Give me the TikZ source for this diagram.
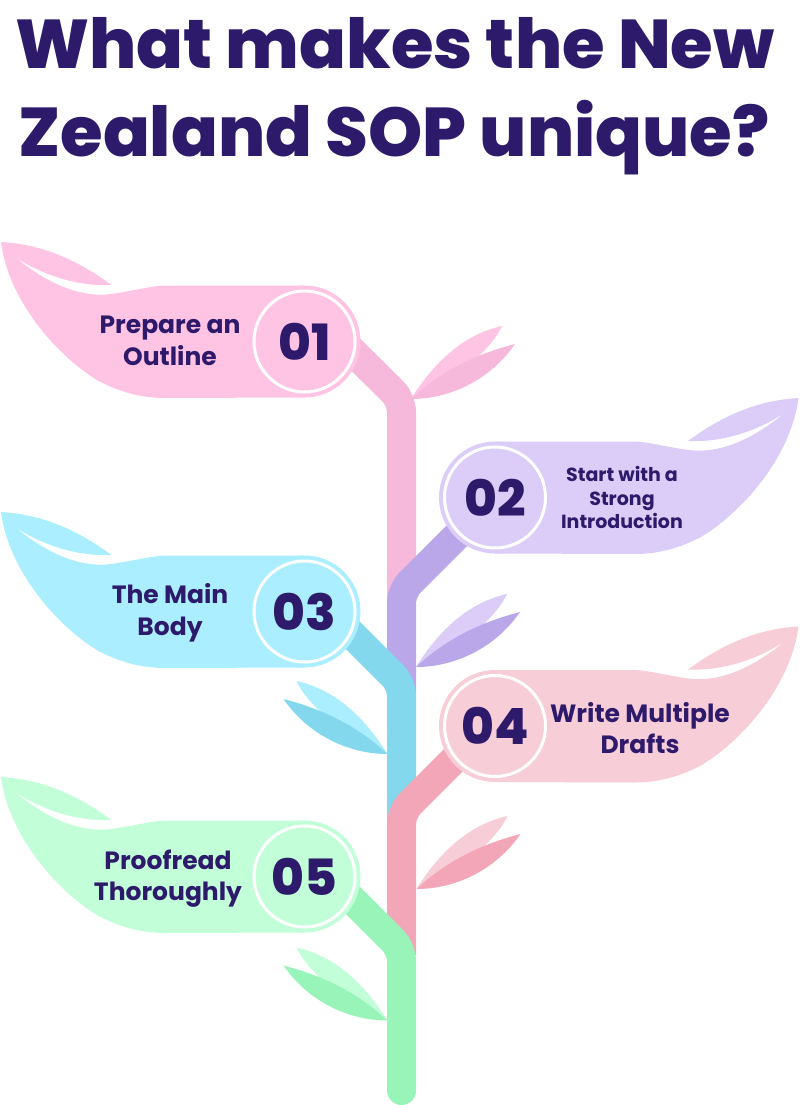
\documentclass[tikz,border=0pt]{standalone}
\usepackage{fontspec}
\setmainfont{Poppins}[BoldFont={Poppins Bold}]
\newfontfamily\heavyfont{Poppins ExtraBold}
\usetikzlibrary{calc}
\pgfdeclarelayer{background}
\pgfsetlayers{background,main}
\definecolor{inkc}{HTML}{2E1A6B}
\definecolor{flaga}{HTML}{FFC4E4}
\definecolor{stema}{HTML}{F6B8DB}
\definecolor{flagb}{HTML}{DBCCF8}
\definecolor{stemb}{HTML}{B9A7E9}
\definecolor{flagc}{HTML}{ABEEFF}
\definecolor{stemc}{HTML}{84D8EE}
\definecolor{flagd}{HTML}{F7CDD8}
\definecolor{stemd}{HTML}{F3A6B7}
\definecolor{flage}{HTML}{C2FFD9}
\definecolor{steme}{HTML}{98F4B8}
\tikzset{
  numnode/.style={circle,draw=white,line width=3pt,minimum size=101pt,inner sep=0pt,
    text=inkc,font=\fontsize{50}{50}\selectfont\heavyfont},
  labelnode/.style={align=center,text=inkc,inner sep=0pt,
    font=\fontsize{25}{31.5}\selectfont\bfseries},
  smalllabel/.style={labelnode,font=\fontsize{19}{23.5}\selectfont\bfseries},
  titlenode/.style={anchor=base west,text=inkc,inner sep=0pt,
    font=\fontsize{69}{70}\selectfont\heavyfont},
  stemline/.style={line width=29pt,rounded corners=12pt,line cap=butt}
}
% flag with its leaf: #1 centre, #2 1 (left) or -1 (right), #3 colour
\newcommand{\flagshape}[3]{
\begin{scope}[shift={#1},xscale=#2]
\fill[#3] (-303.5,-99.5) .. controls (-260,-97) and (-225,-80) .. (-193,-56.5)
  .. controls (-225,-55) and (-260,-65) .. (-289.5,-84.5)
  .. controls (-260,-60) and (-225,-42) .. (-190,-48)
  .. controls (-170,-51) and (-150,-56) .. (-139,-56)
  -- (0,-56) -- (0,56) -- (-139,56.5)
  .. controls (-165,56.5) and (-185,50) .. (-205,40)
  .. controls (-240,20) and (-295,-35) .. (-303.5,-99.5) -- cycle;
\fill[#3] (0,0) circle (56pt);
\end{scope}
}
% pair of leaves: #1 base, #2 1 (right) or -1 (left), #3 light, #4 dark
\newcommand{\twig}[4]{
\begin{scope}[shift={#1},xscale=#2]
\fill[#3] (0,0) .. controls (25,-40) and (55,-65) .. (91,-73)
  .. controls (85,-60) and (75,-50) .. (65,-40) -- cycle;
\fill[#4] (0,0) .. controls (30,-28) and (65,-45) .. (104,-55)
  .. controls (80,-20) and (40,0) .. (0,0) -- cycle;
\end{scope}
}
\begin{document}
\begin{tikzpicture}[x=1pt,y=-1pt]
\useasboundingbox (0,0) rectangle (800,1105);
\node[titlenode] (title1) at (15,68.5) {What makes the New};
\node[titlenode] (title2) at (18,156.5) {Zealand SOP unique?};

\flagshape{(304.5,341.5)}{1}{flaga}
\flagshape{(495,497.5)}{-1}{flagb}
\flagshape{(304.5,611.5)}{1}{flagc}
\flagshape{(495,726)}{-1}{flagd}
\flagshape{(304.5,876.5)}{1}{flage}

\node[numnode] (num1) at (304.5,341.5) {01};
\node[numnode] (num2) at (495,497.5) {02};
\node[numnode] (num3) at (304.5,611.5) {03};
\node[numnode] (num4) at (495,726) {04};
\node[numnode] (num5) at (304.5,876.5) {05};

\node[labelnode] (text1) at (170,341) {Prepare an\\Outline};
\node[smalllabel] (text2) at (622,497.5) {Start with a\\Strong\\Introduction};
\node[labelnode] (text3) at (170,613) {The Main\\Body};
\node[labelnode] (text4) at (640,728) {Write Multiple\\Drafts};
\node[labelnode] (text5) at (168,878.5) {Proofread\\Thoroughly};

\coordinate (bend1) at (401.5,400);
\coordinate (bend2) at (401.5,591);
\coordinate (bend3) at (401.5,684);
\coordinate (bend4) at (401.5,812);
\coordinate (bend5) at (401.5,949);
\coordinate (foot) at (401.5,1090.5);

\begin{pgfonlayer}{background}
\draw[stemline,stema] ($(num1)+(40,2)$) -- (bend1) -- (401.5,600);
\draw[stemline,stemb] ($(num2)+(-33.5,33.5)$) -- (bend2) -- (401.5,695);
\draw[stemline,stemc] ($(num3)+(37,12.5)$) -- (bend3) -- (401.5,820);
\draw[stemline,stemd] ($(num4)+(-33.5,26)$) -- (bend4) -- (401.5,955);
\draw[stemline,steme] ($(num5)+(37,12.5)$) -- (bend5) -- (foot);
\fill[steme] (foot) circle (14.5pt);
\twig{(411,399)}{1}{flaga}{stema}
\twig{(416,667)}{1}{flagb}{stemb}
\twig{(387.5,754)}{-1}{flagc}{stemc}
\twig{(416.5,889)}{1}{flagd}{stemd}
\twig{(387.5,1020.5)}{-1}{flage}{steme}
\end{pgfonlayer}
\end{tikzpicture}
\end{document}
